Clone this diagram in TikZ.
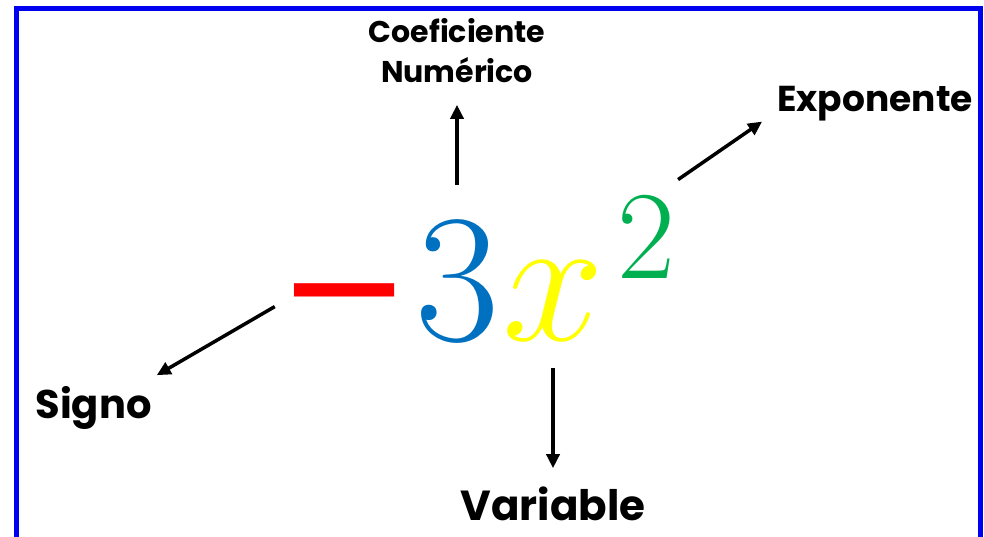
\documentclass[tikz,border=0pt]{standalone}
\usepackage{fix-cm}
\usepackage[no-math]{fontspec}
\setmainfont{Poppins}
\newfontfamily\dejavu{DejaVu Sans}
\usetikzlibrary{positioning,arrows.meta}

\definecolor{frameblue}{RGB}{0,0,240}
\definecolor{signred}{RGB}{255,0,0}
\definecolor{coefblue}{RGB}{0,112,192}
\definecolor{varyellow}{RGB}{255,255,0}
\definecolor{expgreen}{RGB}{0,176,80}

\begin{document}
\begin{tikzpicture}[
		x=1pt, y=-1pt,
		part/.style={inner sep=0pt, anchor=base},
		lbl/.style={inner sep=0pt, font=\bfseries\fontsize{#1}{40}\selectfont},
		arrow/.style={-{Triangle[length=14pt,width=13pt]}, line width=3.5pt}
	]
		\useasboundingbox (0,0) rectangle (984,537);
		\draw[frameblue, line width=5pt] (16.5,8.5) rectangle (980.5,560);

		\node[part, signred, font=\dejavu\fontsize{160}{160}\selectfont] (sign) at (345,340) {−};
		\node[part, coefblue, font=\fontsize{183}{183}\selectfont] (coef) at (457,340) {$3$};
		\node[part, varyellow, font=\fontsize{183}{183}\selectfont] (var) at (553,340) {$x$};
		\node[part, expgreen, font=\fontsize{126}{126}\selectfont] (expo) at (646,278) {$2$};

		\node[lbl=30, align=center, above=139pt of coef] (coeflbl) {Coeficiente\\Numérico};
		\node[lbl=42, below=146pt of var] (varlbl) {Variable};
		\node[lbl=40, below left=78pt and 126pt of sign, anchor=base east] (signlbl) {Signo};
		\node[lbl=36, above right=85pt and 102pt of expo, anchor=base west] (explbl) {Exponente};

		\draw[arrow, shorten <=37pt, shorten >=22pt] (coef.north) -- (coef.north |- coeflbl.south);
		\draw[arrow, shorten <=28pt, shorten >=18pt] (var.south) -- (var.south |- varlbl.north);
		\draw[arrow] ([xshift=-3pt,yshift=5pt]sign.west) -- ([xshift=5pt,yshift=43pt]signlbl.base east);
		\draw[arrow] ([xshift=3pt,yshift=17pt]expo.north east) -- ([xshift=-15pt,yshift=-10pt]explbl.base west);
	\end{tikzpicture}
\end{document}
